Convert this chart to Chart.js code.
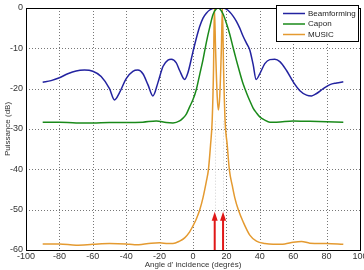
<!DOCTYPE html>
<html><head><meta charset="utf-8">
<script src="https://cdn.jsdelivr.net/npm/chart.js@4/dist/chart.umd.min.js"></script>
<style>html,body{margin:0;padding:0;background:#fff}#wrap{width:364px;height:270px;position:relative}</style>
</head><body><div id="wrap"><canvas id="c" width="364" height="270"></canvas></div>
<script>
const seriesNames = ['Beamforming', 'Capon', 'MUSIC'];
const beamAngles = [-90,-85,-80,-75,-70,-65,-60,-55,-50,-47,-44,-40,-36,-33,-30,-27,-24,-21,-18,-15,-13,-10,-8,-5,-3,0,2,4,6,8,10,12,14,16,18,20,22,24,26,28,30,32,34,36,37.8,40,43,46,49,52,56,60,64,68,71,74,78,82,86,90];
const beamPower = [-18.4,-18.0,-17.3,-16.3,-15.6,-15.4,-15.7,-17.0,-20.0,-22.8,-21.0,-17.5,-15.7,-15.4,-16.3,-19.0,-21.8,-18.5,-14.5,-12.9,-12.7,-13.6,-15.5,-17.7,-16.0,-10.8,-7.5,-4.6,-2.5,-1.3,-0.5,-0.1,0,0,0,-0.3,-1.0,-2.0,-3.3,-5.0,-7.0,-8.7,-10.4,-14.0,-17.7,-16.3,-13.8,-12.8,-12.7,-13.3,-15.5,-18.3,-20.5,-21.6,-21.8,-21.2,-20.0,-19.0,-18.6,-18.3];
const caponAngles = [-90,-80,-70,-60,-50,-40,-30,-22,-16,-12,-8,-6,-4,-2,0,2,4,6,8,10,12,14,15,16,18,20,22,24,26,28,30,32,34,36,38,40,43,46,50,60,70,80,90];
const caponPower = [-28.3,-28.3,-28.5,-28.5,-28.4,-28.4,-28.3,-28.0,-28.4,-28.5,-28.0,-27.3,-26.3,-24.5,-22.7,-20.2,-16.5,-12.8,-8.5,-4.8,-1.6,-0.2,0,-0.2,-1.5,-3.8,-6.5,-9.8,-13.0,-16.0,-18.8,-21.0,-23.0,-24.8,-26.0,-27.0,-27.8,-28.3,-28.3,-28.0,-28.1,-28.2,-28.3];
const musicAngles = [-90,-80,-70,-60,-50,-40,-35,-25,-20,-15,-12,-8,-5,-2,0,2,4,6,8,9.2,10.5,11.5,12.3,12.8,13.5,14.5,15.2,16,17,17.6,18.3,19.2,20.5,21.8,23.5,25,27.2,30,34,38,43,48,55,60,65,70,80,90];
const musicPower = [-58.5,-58.5,-58.8,-58.6,-58.4,-58.5,-58.7,-58.3,-58.2,-58.4,-58.4,-57.8,-57.0,-55.5,-54.0,-52.3,-50.1,-47.0,-43.0,-40.2,-34.0,-27.8,-15.0,0,-10.0,-22.0,-25.3,-22.0,-10.0,0,-15.0,-27.8,-34.0,-40.2,-44.0,-47.0,-50.1,-53.0,-56.3,-57.8,-58.4,-58.6,-58.5,-58.1,-57.9,-58.3,-58.4,-58.6];
const xTicksMin = -100, xTicksMax = 100, xStep = 20;
const yTicksMin = -60, yTicksMax = 0, yStep = 10;
const arrowAngles = [13, 18];
const arrowBase = -60, arrowTip = -50.5;
const xTitle = "Angle d' incidence (degrés)";
const yTitle = 'Puissance (dB)';
const colors = ['#2323a0', '#1a8a1a', '#e49a30'];

function pts(xs, ys){ return xs.map((x,i)=>({x:x, y:ys[i]})); }
const FONT = "'Liberation Sans', Arial, sans-serif";

const gridPlugin = {
  id: 'dottedGrid',
  beforeDatasetsDraw(chart){
    const ctx = chart.ctx, a = chart.chartArea, xs = chart.scales.x, ys = chart.scales.y;
    ctx.save();
    ctx.strokeStyle = '#777'; ctx.lineWidth = 1; ctx.setLineDash([1,2]);
    xs.ticks.forEach(t=>{
      const px = Math.round(xs.getPixelForValue(t.value))+0.5;
      ctx.beginPath(); ctx.moveTo(px, a.top); ctx.lineTo(px, a.bottom); ctx.stroke();
    });
    ys.ticks.forEach(t=>{
      const py = Math.round(ys.getPixelForValue(t.value))+0.5;
      ctx.beginPath(); ctx.moveTo(a.left, py); ctx.lineTo(a.right, py); ctx.stroke();
    });
    ctx.restore();
  }
};

const boxPlugin = {
  id: 'boxAndArrows',
  afterDatasetsDraw(chart){
    const ctx = chart.ctx, a = chart.chartArea, xs = chart.scales.x, ys = chart.scales.y;
    ctx.save();
    ctx.strokeStyle = '#d0d0d0'; ctx.lineWidth = 1; ctx.setLineDash([1,2]);
    arrowAngles.forEach(v=>{
      const px = Math.round(xs.getPixelForValue(v))+0.5;
      ctx.beginPath(); ctx.moveTo(px, ys.getPixelForValue(arrowTip)); ctx.lineTo(px, ys.getPixelForValue(-28)); ctx.stroke();
    });
    ctx.setLineDash([]);
    ctx.strokeStyle = '#e01818'; ctx.fillStyle = '#e01818'; ctx.lineWidth = 2;
    arrowAngles.forEach(v=>{
      const px = xs.getPixelForValue(v);
      const yb = ys.getPixelForValue(arrowBase), yt = ys.getPixelForValue(arrowTip);
      ctx.beginPath(); ctx.moveTo(px, yb); ctx.lineTo(px, yt+6); ctx.stroke();
      ctx.beginPath(); ctx.moveTo(px, yt); ctx.lineTo(px-3, yt+9); ctx.lineTo(px+3, yt+9); ctx.closePath(); ctx.fill();
    });
    ctx.strokeStyle = '#000'; ctx.lineWidth = 1;
    ctx.strokeRect(Math.round(a.left)+0.5, Math.round(a.top)+0.5, Math.round(a.right-a.left), Math.round(a.bottom-a.top));
    const lx = 276.5, ly = 5.5, lw = 82, lh = 36;
    ctx.fillStyle = '#fff'; ctx.fillRect(lx, ly, lw, lh);
    ctx.strokeStyle = '#000'; ctx.strokeRect(lx, ly, lw, lh);
    ctx.font = '8px ' + FONT; ctx.textBaseline = 'middle'; ctx.textAlign = 'left';
    chart.data.datasets.forEach((ds,i)=>{
      const yy = 13.5 + i*10.5;
      ctx.strokeStyle = ds.borderColor; ctx.lineWidth = 1.5;
      ctx.beginPath(); ctx.moveTo(283, yy); ctx.lineTo(305, yy); ctx.stroke();
      ctx.fillStyle = '#222'; ctx.fillText(ds.label, 308, yy);
    });
    ctx.restore();
  }
};

new Chart(document.getElementById('c'), {
  type: 'line',
  data: { datasets: [
    {label: seriesNames[0], data: pts(beamAngles, beamPower), borderColor: colors[0]},
    {label: seriesNames[1], data: pts(caponAngles, caponPower), borderColor: colors[1]},
    {label: seriesNames[2], data: pts(musicAngles, musicPower), borderColor: colors[2]}
  ].map(d=>Object.assign(d,{borderWidth:1.5, pointRadius:0, fill:false, cubicInterpolationMode:'monotone'})) },
  options: {
    responsive: false, animation: false, devicePixelRatio: 1,
    layout: { padding: {top: 8, right: 4, bottom: 0, left: 0} },
    plugins: { legend: {display:false}, tooltip: {enabled:false} },
    scales: {
      x: { type:'linear', min:xTicksMin, max:xTicksMax,
        ticks:{ stepSize:xStep, color:'#333', font:{family:FONT, size:9}, padding:1, maxRotation:0 },
        grid:{ display:false, drawTicks:false },
        border:{ display:false },
        title:{ display:true, text:xTitle, color:'#333', font:{family:FONT, size:8}, padding:{top:0,bottom:0} },
        afterFit(s){ s.height = 20; s.paddingLeft = 0; s.paddingRight = 0; }
      },
      y: { min:yTicksMin, max:yTicksMax,
        ticks:{ stepSize:yStep, color:'#333', font:{family:FONT, size:9}, padding:3 },
        grid:{ display:false, drawTicks:false },
        border:{ display:false },
        title:{ display:true, text:yTitle, color:'#333', font:{family:FONT, size:8}, padding:{top:3,bottom:0} },
        afterFit(s){ s.width = 26; s.paddingTop = 0; s.paddingBottom = 0; }
      }
    }
  },
  plugins: [gridPlugin, boxPlugin]
});
</script></body></html>
